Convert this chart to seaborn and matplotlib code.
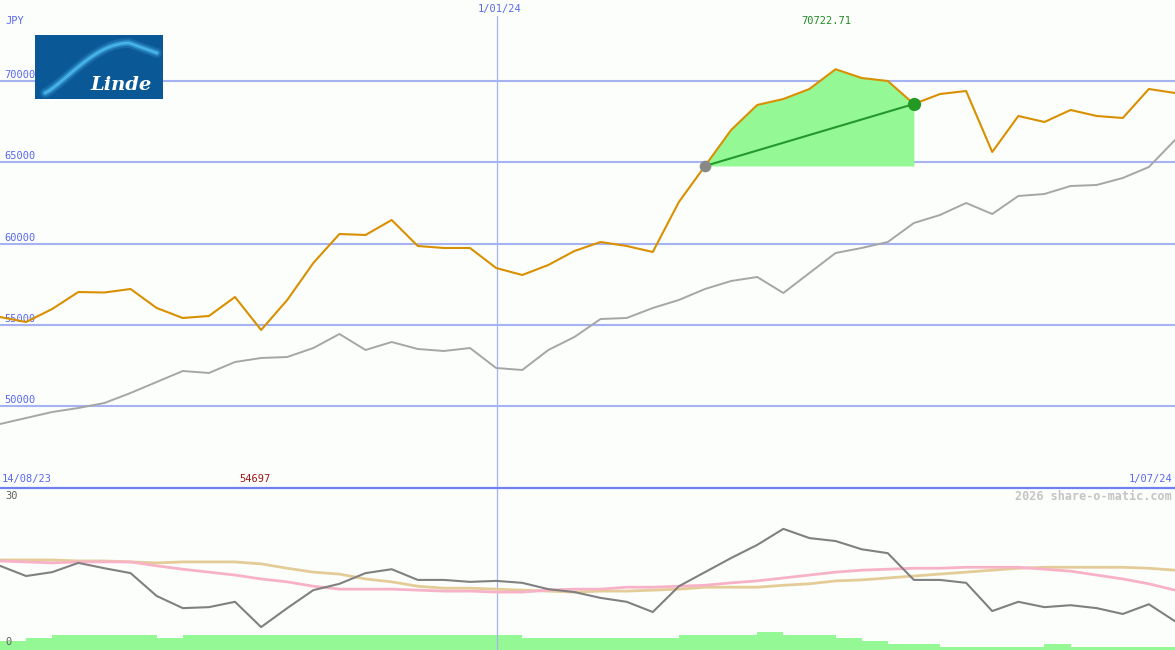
import numpy as np
import pandas as pd
import seaborn as sns
import matplotlib.pyplot as plt
from matplotlib.lines import Line2D

# weekly closes, JPY (14/08/23 .. 1/07/24)
price = [55495, 55187, 55987, 57031, 57000, 57216, 56048, 55433, 55556, 56724,
         54697, 56540, 58814, 60596, 60535, 61457, 59859, 59736, 59736, 58506,
         58076, 58691, 59551, 60104, 59859, 59490, 62563, 64776, 66988, 68525,
         68894, 69508, 70722.71, 70184, 70000, 68586, 69200, 69385, 65636, 67849,
         67480, 68218, 67849, 67726, 69508, 69262]
# comparison index (grey)
index_line = [48918, 49287, 49656, 49902, 50209, 50824, 51500, 52176, 52053, 52729,
              52975, 53036, 53589, 54450, 53467, 53958, 53528, 53405, 53589, 52360,
              52237, 53467, 54266, 55372, 55433, 56048, 56540, 57216, 57707, 57953,
              56970, 58199, 59428, 59736, 60104, 61272, 61764, 62502, 61825, 62932,
              63055, 63546, 63608, 64038, 64714, 66374]
# lower panel indicators
osc = [16.9, 14.8, 15.6, 17.5, 16.4, 15.4, 10.7, 8.2, 8.4, 9.5, 4.3, 8.2, 11.9, 13.2,
       15.4, 16.2, 14.0, 14.0, 13.6, 13.8, 13.4, 12.1, 11.5, 10.3, 9.5, 7.4, 12.7,
       15.6, 18.5, 21.2, 24.5, 22.6, 22.0, 20.3, 19.5, 14.0, 14.0, 13.4, 7.6, 9.5,
       8.4, 8.8, 8.2, 7.0, 9.0, 5.5]
pink_avg = [17.9, 17.7, 17.5, 17.7, 17.7, 17.7, 16.9, 16.2, 15.6, 15.0, 14.2, 13.6,
            12.7, 12.1, 12.1, 12.1, 11.9, 11.7, 11.7, 11.5, 11.5, 11.9, 12.1, 12.1,
            12.5, 12.5, 12.7, 12.9, 13.4, 13.8, 14.4, 15.0, 15.6, 16.0, 16.2, 16.4,
            16.4, 16.6, 16.6, 16.6, 16.2, 15.8, 15.0, 14.2, 13.2, 11.9]
tan_avg = [18.1, 18.1, 18.1, 17.9, 17.9, 17.7, 17.5, 17.7, 17.7, 17.7, 17.3, 16.4,
           15.6, 15.2, 14.2, 13.6, 12.7, 12.3, 12.3, 12.1, 11.9, 11.7, 11.5, 11.7,
           11.7, 11.9, 12.1, 12.5, 12.5, 12.5, 12.9, 13.2, 13.8, 14.0, 14.4, 14.8,
           15.2, 15.6, 16.0, 16.4, 16.6, 16.6, 16.6, 16.6, 16.4, 16.0]
volume = [3, 4, 5, 5, 5, 5, 4, 5, 5, 5, 5, 5, 5, 5, 5, 5, 5, 5, 5, 5,
          4, 4, 4, 4, 4, 4, 5, 5, 5, 6, 5, 5, 4, 3, 2, 2, 1, 1, 1, 1, 2, 1, 1, 1, 1]

price_ticks = [50000, 55000, 60000, 65000, 70000]
start_label, end_label, mid_label = "14/08/23", "1/07/24", "1/01/24"
mid_pos = 19.05
run_start, run_end = 27, 35

W, H = 1175, 650
bg = "#fbfefb"
grid_c = "#a6b2f2"
lab_c = "#5a68f0"

sns.set_style("white")
plt.rcParams["font.family"] = ["DejaVu Sans Mono"]

fig = plt.figure(figsize=(W / 100, H / 100), dpi=100, facecolor=bg)
ax = fig.add_axes([0, (H - 487) / H, 1, 487 / H], facecolor=bg)
ax2 = fig.add_axes([0, 0, 1, 162 / H], facecolor=bg)

x = np.arange(len(price))
df = pd.DataFrame({"x": x, "price": price, "index": index_line,
                   "osc": osc, "pink": pink_avg, "tan": tan_avg})

# ---- main panel
ax.set_xlim(0, len(price) - 1)
ax.set_ylim(45046, 74978)
for t in price_ticks:
    ax.axhline(t, color=grid_c, lw=1.5, zorder=1)
    ax.text(0.004, t + 370, str(t), transform=ax.get_yaxis_transform(),
            color=lab_c, fontsize=7.5, va="center", ha="left")
ax.axvline(mid_pos, ymax=1 - 16 / 487, color=grid_c, lw=0.9, zorder=1)

seg = df.iloc[run_start:run_end + 1]
ax.fill_between(seg["x"], seg["price"], price[run_start], color="#94f894",
                lw=0, zorder=2)
sns.lineplot(data=df, x="x", y="index", ax=ax, color="#a6a6a6", lw=1.4, zorder=3)
sns.lineplot(data=df, x="x", y="price", ax=ax, color="#d99000", lw=1.5, zorder=4)
ax.plot([run_start, run_end], [price[run_start], price[run_end]],
        color="#22992a", lw=1.5, zorder=5)
ax.scatter([run_start], [price[run_start]], s=70, color="#888888", zorder=6, lw=0)
ax.scatter([run_end], [price[run_end]], s=90, color="#229922", zorder=6, lw=0)
ax.set_axis_off()

# ---- lower panel
ax2.set_xlim(0, len(price) - 1)
ax2.set_ylim(-0.41, 32.9)
ax2.bar(np.arange(len(volume)), np.array(volume) * 0.62, bottom=-0.41, width=1.0,
        align="edge", color="#94f894", lw=0, zorder=1)
ax2.axvline(mid_pos, color=grid_c, lw=0.9, zorder=2)
sns.lineplot(data=df, x="x", y="tan", ax=ax2, color="#e4cc98", lw=2.0, zorder=3)
sns.lineplot(data=df, x="x", y="pink", ax=ax2, color="#f8b2c8", lw=2.0, zorder=3)
sns.lineplot(data=df, x="x", y="osc", ax=ax2, color="#808080", lw=1.5, zorder=4)
ax2.set_axis_off()

# separator line between panels
fig.add_artist(Line2D([0, 1], [1 - 487.5 / H] * 2, color="#7080f0", lw=1.6))

def ftext(px, py, s, **kw):
    fig.text(px / W, 1 - py / H, s, va="center", **kw)

ftext(5, 21, "JPY", color=lab_c, fontsize=7.5)
ftext(500, 9, mid_label, color=lab_c, fontsize=7.5, ha="center")
ftext(826, 21, "70722.71", color="#238a23", fontsize=7.5, ha="center")
ftext(2, 479, start_label, color=lab_c, fontsize=7.5)
ftext(1172, 479, end_label, color=lab_c, fontsize=7.5, ha="right")
ftext(255, 479, "54697", color="#a01818", fontsize=7.5, ha="center")
ftext(1172, 496, "2026 share-o-matic.com", color="#c4c4c4", fontsize=8.5,
      ha="right", fontweight="bold")
ftext(5, 496, "30", color="#606060", fontsize=7.5)
ftext(5, 642, "0", color="#606060", fontsize=7.5)

# logo
lg = fig.add_axes([35 / W, 1 - 99 / H, 128 / W, 64 / H], facecolor="#0b5896")
lg.set_xlim(0, 128)
lg.set_ylim(64, 0)
t = np.linspace(0, 1, 80)
cx = 10 + 112 * t
cy = 58 - 50 * np.sin(np.pi / 2 * np.clip(t / 0.75, 0, 1)) ** 1.2 + 10 * np.clip(t - 0.75, 0, 1) / 0.25
for w, a in [(7, 0.2), (4, 0.45), (1.8, 0.9)]:
    lg.plot(cx, cy, color="#4ab8ec", lw=w, alpha=a, solid_capstyle="round")
lg.text(86, 50, "Linde", color="white", fontsize=14, fontweight="bold",
        fontstyle="italic", family="DejaVu Serif", ha="center", va="center")
lg.set_xticks([])
lg.set_yticks([])
for s in lg.spines.values():
    s.set_visible(False)

fig.savefig("out.png", dpi=100, facecolor=bg)
